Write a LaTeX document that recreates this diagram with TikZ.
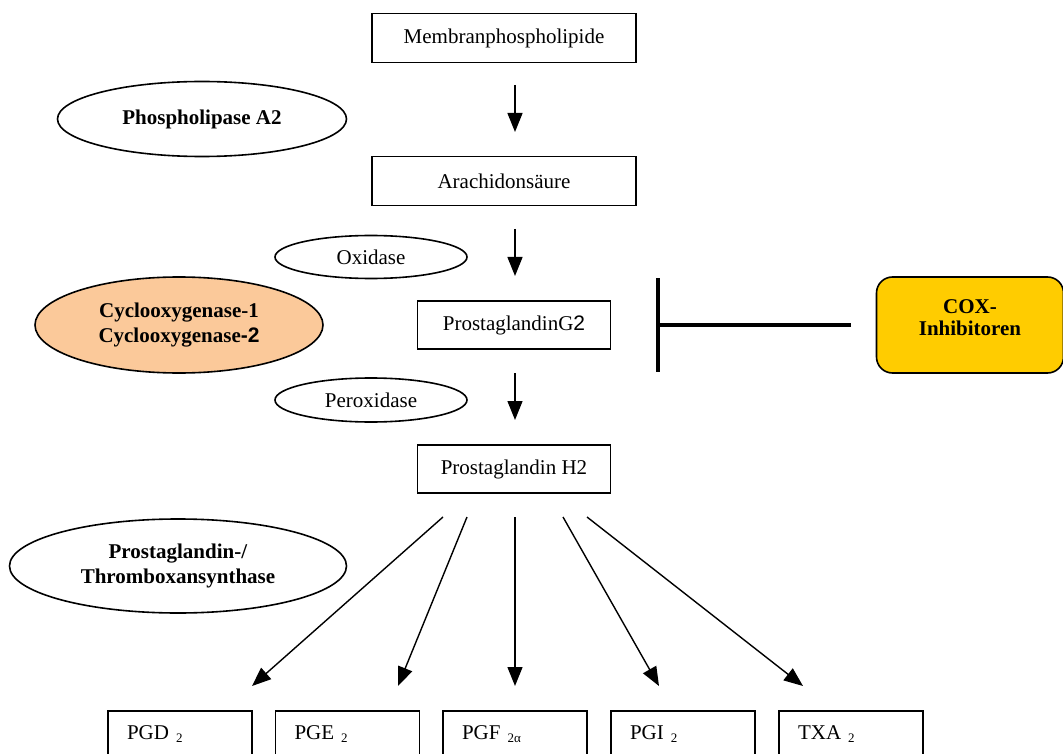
\documentclass[tikz,border=0pt]{standalone}
\usepackage{fontspec}
\setmainfont{Liberation Serif}
\newfontfamily\arialf{Liberation Sans}
\usetikzlibrary{arrows.meta,shapes.geometric}
\definecolor{peach}{HTML}{FBC99A}
\definecolor{coxyellow}{HTML}{FFCC00}
\begin{document}
\begin{tikzpicture}[x=1pt,y=-1pt,
  every node/.style={font=\fontsize{21}{25}\selectfont},
  box/.style={draw,line width=1.6pt,rectangle,inner sep=0pt},
  enz/.style={draw,line width=1.6pt,ellipse,inner sep=0pt,align=center},
  prodbox/.style={draw,line width=1.6pt,rectangle,anchor=north,minimum height=46,
    inner xsep=19,inner ysep=0,text width=106,align=left},
  arr/.style={line width=1.4pt,-{Triangle[width=15pt,length=19pt]}},
  sub/.style={}]
\useasboundingbox (0,0) rectangle (1063,754);

% main chain boxes
\node[box,minimum width=264,minimum height=49] (mem) at (504,38) {Membranphospholipide};
\node[box,minimum width=264,minimum height=49] (ara) at (504,181) {Arachidonsäure};
\node[box,minimum width=193,minimum height=48] (pg2) at (514,325) {ProstaglandinG{\arialf 2}};
\node[box,minimum width=193,minimum height=48] (ph2) at (514,469) {Prostaglandin H2};

% enzymes
\node[enz,minimum width=289,minimum height=75] (pla) at (202,119) {\textbf{Phospholipase A2}};
\node[enz,minimum width=192,minimum height=43] (oxi) at (371,257) {Oxidase};
\node[enz,fill=peach,minimum width=288,minimum height=96] (cox) at (179,325)
  {\textbf{Cyclooxygenase-1}\\\textbf{Cyclooxygenase{\arialf -2}}};
\node[enz,minimum width=192,minimum height=44] (per) at (371,400) {Peroxidase};
\node[enz,minimum width=337,minimum height=94] (pts) at (178,566)
  {\textbf{Prostaglandin-/}\\\textbf{Thromboxansynthase}};

% COX inhibitors
\node[draw,line width=1.6pt,fill=coxyellow,rounded corners=16pt,minimum width=187,minimum height=96,inner sep=0pt] (coxbox) at (970,325) {};
\node[align=center,font=\fontsize{21}{22}\selectfont\bfseries] (coxtxt) at (970,318) {COX-\\Inhibitoren};

% vertical arrows
\coordinate (a1s) at (515,85);  \coordinate (a1e) at (515,132);
\coordinate (a2s) at (515,229); \coordinate (a2e) at (515,276);
\coordinate (a3s) at (515,373); \coordinate (a3e) at (515,420);
\draw[arr] (a1s) -- (a1e);
\draw[arr] (a2s) -- (a2e);
\draw[arr] (a3s) -- (a3e);

% inhibition
\coordinate (inhs) at (851,325);
\coordinate (bar) at (658,325);
\coordinate (bart) at (658,278);
\coordinate (barb) at (658,372);
\draw[line width=3.5pt] (inhs) -- (bar);
\draw[line width=3.5pt] (bart) -- (barb);

% products
\node[prodbox] (pgd) at (180,710) {PGD {\fontsize{13}{13}\selectfont\raisebox{-3pt}{2}}};
\node[prodbox] (pge) at (347.5,710) {PGE {\fontsize{13}{13}\selectfont\raisebox{-3pt}{2}}};
\node[prodbox] (pgf) at (515,710) {PGF {\fontsize{13}{13}\selectfont\raisebox{-3pt}{2α}}};
\node[prodbox] (pgi) at (683,710) {PGI {\fontsize{13}{13}\selectfont\raisebox{-3pt}{2}}};
\node[prodbox] (txa) at (851,710) {TXA {\fontsize{13}{13}\selectfont\raisebox{-3pt}{2}}};

% fan arrows
\coordinate (f1s) at (443,517); \coordinate (f1e) at (252,686);
\coordinate (f2s) at (467,517); \coordinate (f2e) at (398,686);
\coordinate (f3s) at (515,517); \coordinate (f3e) at (515,686);
\coordinate (f4s) at (563,517); \coordinate (f4e) at (659,686);
\coordinate (f5s) at (587,517); \coordinate (f5e) at (803,686);
\draw[arr] (f1s) -- (f1e);
\draw[arr] (f2s) -- (f2e);
\draw[arr] (f3s) -- (f3e);
\draw[arr] (f4s) -- (f4e);
\draw[arr] (f5s) -- (f5e);
\end{tikzpicture}
\end{document}
